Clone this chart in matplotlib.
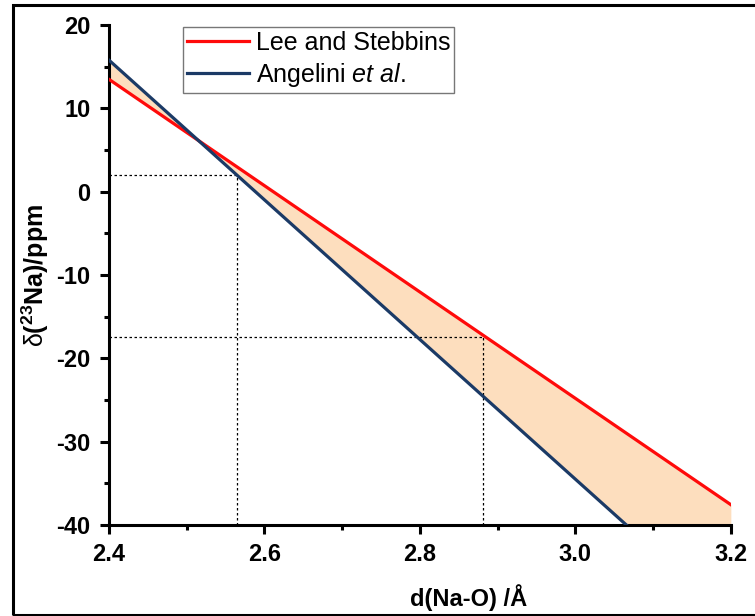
import numpy as np
import matplotlib
matplotlib.use("Agg")
import matplotlib.pyplot as plt
from matplotlib.patches import Rectangle

plt.rcParams['font.family'] = ['Liberation Sans', 'DejaVu Sans']
plt.rcParams['mathtext.fontset'] = 'custom'
plt.rcParams['mathtext.rm'] = 'Liberation Sans'
plt.rcParams['mathtext.it'] = 'Liberation Sans:italic'
plt.rcParams['mathtext.bf'] = 'Liberation Sans:bold'

# Linear shift-distance correlations: delta = intercept + slope * d
d_range = [2.4, 3.2]
lee_slope, lee_intercept = -63.8, 166.6
ang_slope, ang_intercept = -83.8, 216.9

# Guide points (d, delta) marked with dotted lines
guide_points = [(2.565, 2.0), (2.881, -17.4)]

x_ticks = [2.4, 2.6, 2.8, 3.0, 3.2]
y_ticks = [-40, -30, -20, -10, 0, 10, 20]

fig = plt.figure(figsize=(7.55, 6.16), dpi=100)
ax = fig.add_axes([0.1444, 0.1477, 0.8236, 0.8117])

d = np.linspace(d_range[0], d_range[1], 400)
lee = lee_intercept + lee_slope * d
ang = ang_intercept + ang_slope * d

ax.fill_between(d, lee, ang, color='#FDDEBE', lw=0, zorder=1)
ax.plot(d, lee, color='#FF0A0A', lw=2.3, label='Lee and Stebbins', zorder=3)
ax.plot(d, ang, color='#1B3A66', lw=2.3,
        label='Angelini $\\mathit{et\\ al.}$', zorder=3)

for gx, gy in guide_points:
    ax.plot([d_range[0], gx], [gy, gy], color='black', lw=0.9,
            ls=(0, (2, 2)), zorder=2)
    ax.plot([gx, gx], [-40, gy], color='black', lw=0.9,
            ls=(0, (2, 2)), zorder=2)

ax.set_xlim(2.4, 3.2)
ax.set_ylim(-40, 20)
ax.set_xticks(x_ticks)
ax.set_yticks(y_ticks)
ax.set_xticks([2.5, 2.7, 2.9, 3.1], minor=True)
ax.set_yticks([-35, -25, -15, -5, 5, 15], minor=True)
ax.set_xticklabels([f'{v:.1f}' for v in x_ticks])
ax.set_yticklabels([str(v) for v in y_ticks])

for s in ['top', 'right']:
    ax.spines[s].set_visible(False)
for s in ['left', 'bottom']:
    ax.spines[s].set_linewidth(2.2)
ax.tick_params(which='major', direction='out', length=6.5, width=2.2,
               labelsize=17)
ax.tick_params(which='minor', direction='out', length=3.5, width=2.2)
for lab in ax.get_xticklabels() + ax.get_yticklabels():
    lab.set_fontweight('bold')
ax.tick_params(axis='x', pad=6.5)
ax.tick_params(axis='y', pad=7)

ax.set_xlabel('d(Na-O) /Å', fontsize=17, fontweight='bold')
ax.xaxis.label.set_va('center')
ax.xaxis.set_label_coords(0.579, -0.146)
ax.set_ylabel(r'$\mathrm{\delta}$($^{\mathbf{23}}$Na)/ppm',
              fontsize=18, fontweight='bold')
ax.yaxis.label.set_va('center')
ax.yaxis.set_label_coords(-0.119, 0.5)

leg = ax.legend(loc='upper left', bbox_to_anchor=(0.119, 0.996),
                fontsize=18, frameon=True, fancybox=False,
                edgecolor='#555555', handlelength=2.5, handletextpad=0.25,
                borderpad=0.15, labelspacing=0.25, borderaxespad=0.0)
leg.get_frame().set_linewidth(1.0)

# Frame around the whole figure
fig.patches.append(Rectangle((13 / 755, 1 / 616), 1.2, 610 / 616,
                             transform=fig.transFigure, fill=False,
                             edgecolor='black', lw=2.2, zorder=10))

fig.savefig('out.png', dpi=100)
